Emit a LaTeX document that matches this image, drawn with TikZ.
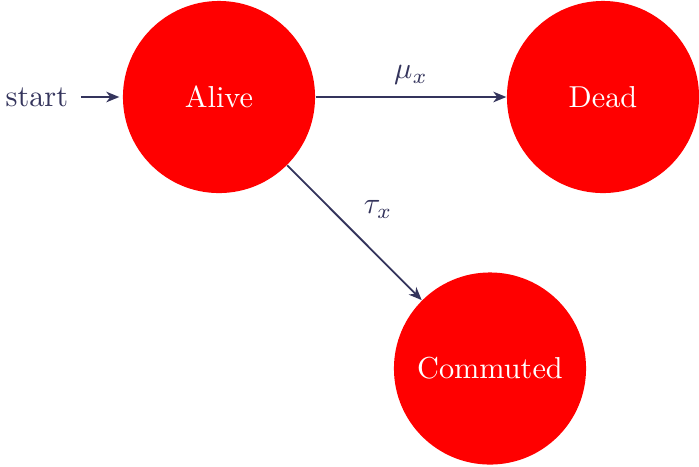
\documentclass[tikz,border=0pt]{standalone}
\usetikzlibrary{arrows.meta}
\definecolor{ink}{RGB}{52,52,92}
\begin{document}
\begin{tikzpicture}[x=0.33pt,y=-0.33pt,
  statenode/.style={circle,fill=red,text=white,minimum size=63.4pt,inner sep=0pt},
  conn/.style={draw=ink,semithick,-{Stealth[length=4.3pt,width=3.5pt,inset=1.3pt]}},
  lbl/.style={text=ink}]
\useasboundingbox (0,0) rectangle (699,466);
\node[statenode] (alive) at (219,97) {Alive};
\node[statenode] (dead) at (603,97) {Dead};
\node[statenode] (comm) at (490,368.5) {Commuted};
\node[lbl,anchor=west,inner sep=0pt] (start) at (5,97) {start};
\draw[conn] (start.east) ++(4pt,0) coordinate (s0) (s0) -- ([xshift=-1pt]alive.west);
\draw[conn] (alive) -- (dead) node[lbl,midway,above=0.5pt] {$\mu_x$};
\draw[conn] (alive) -- (comm) node[lbl,midway,xshift=7.8pt,yshift=7.6pt] {$\tau_x$};
\end{tikzpicture}
\end{document}
